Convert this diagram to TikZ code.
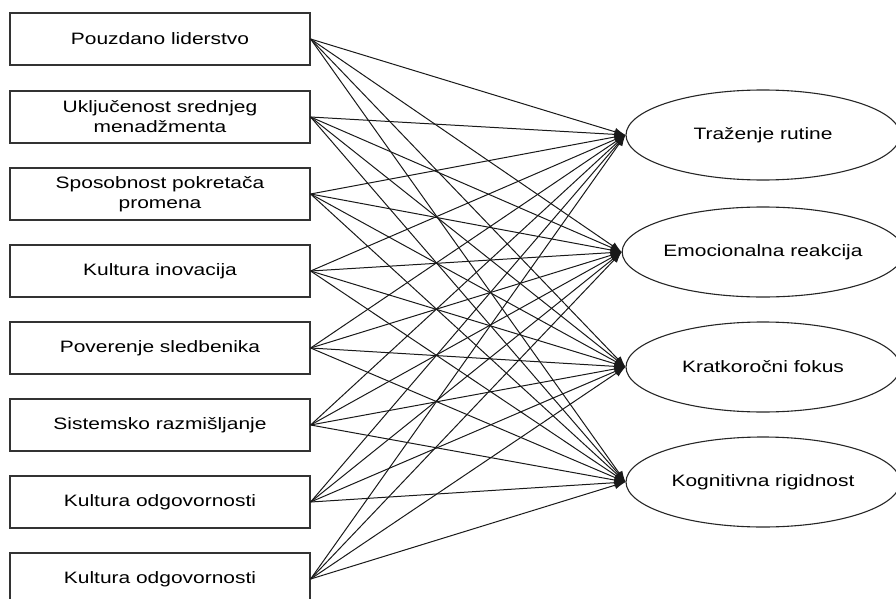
\documentclass[tikz,border=0pt]{standalone}
\usepackage{fontspec}
\setmainfont{Liberation Sans}[FakeStretch=1.27]
\usetikzlibrary{shapes.geometric,arrows.meta}
\begin{document}
\begin{tikzpicture}[x=1pt,y=-1pt,
  lbox/.style={draw=black!80,line width=1.2pt,minimum width=300pt,minimum height=52pt,inner sep=0pt,align=center,font=\fontsize{16.5pt}{20pt}\selectfont},
  oval/.style={ellipse,draw=black!85,line width=1.1pt,minimum width=274pt,minimum height=90pt,inner sep=0pt,font=\fontsize{16.5pt}{20pt}\selectfont},
  link/.style={draw=black!90,line width=1pt,-{Latex[length=11pt,width=8pt]}}]
\useasboundingbox (0,0) rectangle (896,599);
\node[lbox] (a1) at (160,39) {Pouzdano liderstvo};
\node[lbox] (a2) at (160,117) {Uključenost srednjeg\\menadžmenta};
\node[lbox] (a3) at (160,194) {Sposobnost pokretača\\promena};
\node[lbox] (a4) at (160,271) {Kultura inovacija};
\node[lbox] (a5) at (160,348) {Poverenje sledbenika};
\node[lbox] (a6) at (160,425) {Sistemsko razmišljanje};
\node[lbox] (a7) at (160,502) {Kultura odgovornosti};
\node[lbox] (a8) at (160,579) {Kultura odgovornosti};
\node[oval] (b1) at (763,135) {Traženje rutine};
\node[oval] (b2) at (763,252) {Emocionalna reakcija};
\node[oval] (b3) at (763,367) {Kratkoročni fokus};
\node[oval] (b4) at (763,482) {Kognitivna rigidnost};
\foreach \i in {1,...,8}{
  \foreach \j in {1,...,4}{
    \draw[link] (a\i.east) -- (b\j.west);
  }
}
\end{tikzpicture}
\end{document}
